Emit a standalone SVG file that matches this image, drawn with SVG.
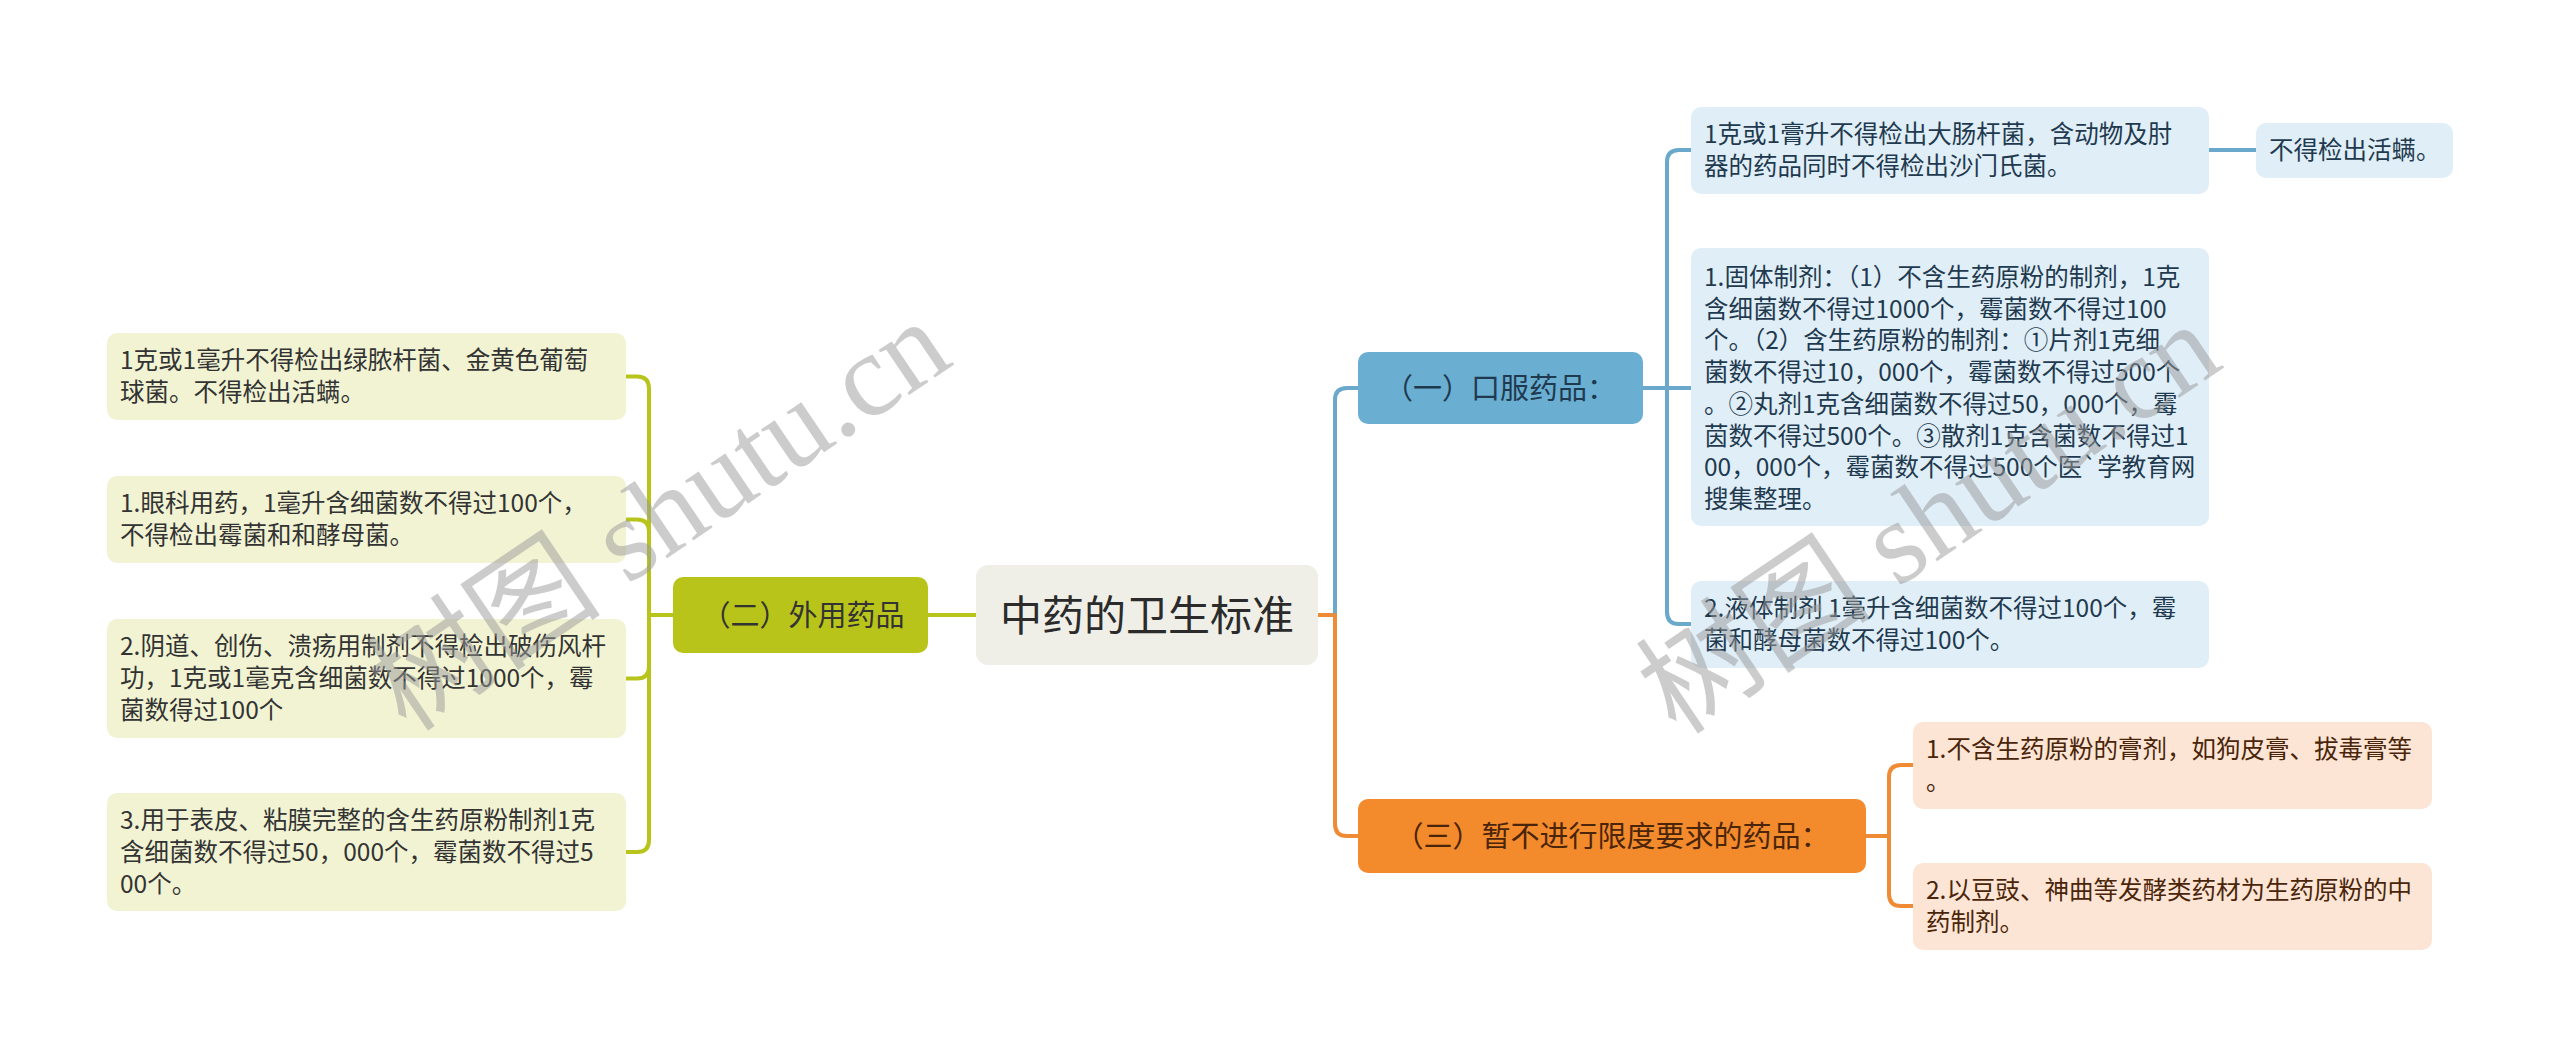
<svg xmlns="http://www.w3.org/2000/svg" width="2560" height="1057" viewBox="0 0 2560 1057">
<style>
text{font-family:"Noto Sans CJK SC","Noto Sans",sans-serif;}
.root{fill:#efefe8;}
.rootT{font-size:42px;fill:#2b2b2b;text-anchor:middle;}
.l1T{font-size:29px;text-anchor:middle;}
.c{font-size:24.5px;}
.gN{fill:#b8c41a;}
.gC{fill:#f1f3d3;}
.gT{fill:#333333;}
.bN{fill:#6aaed2;}
.bC{fill:#e0eef7;}
.bT{fill:#1f3a4f;}
.oN{fill:#f38a2c;}
.oC{fill:#fde5d5;}
.oT{fill:#4a250a;}
.ln{fill:none;stroke-width:4;stroke-linecap:round;}
.g{stroke:#b8c41a;}
.b{stroke:#6aa8cc;}
.o{stroke:#ef8b35;}
.wm{font-family:"Liberation Serif","Noto Sans CJK SC",serif;font-size:118px;fill:#9a9a9a;opacity:0.5;text-anchor:middle;}
</style>
<g id="connectors">
<path class="ln g" d="M976,615 H928"/>
<path class="ln g" d="M673,615 H649"/>
<path class="ln g" d="M649,615 V388.5 Q649,376.5 637,376.5 H626"/>
<path class="ln g" d="M649,615 V531.5 Q649,519.5 637,519.5 H626"/>
<path class="ln g" d="M649,615 V666.5 Q649,678.5 637,678.5 H626"/>
<path class="ln g" d="M649,615 V840 Q649,852 637,852 H626"/>
<path class="ln o" d="M1318,615 H1335"/>
<path class="ln b" d="M1335,615 V400 Q1335,388 1347,388 H1358"/>
<path class="ln o" d="M1335,615 V824 Q1335,836 1347,836 H1358"/>
<path class="ln b" d="M1643,388 H1667"/>
<path class="ln b" d="M1667,388 V162 Q1667,150 1679,150 H1691"/>
<path class="ln b" d="M1667,388 H1691"/>
<path class="ln b" d="M1667,388 V612 Q1667,624 1679,624 H1691"/>
<path class="ln b" d="M2209,150 H2256"/>
<path class="ln o" d="M1866,836 H1889"/>
<path class="ln o" d="M1889,836 V777 Q1889,765 1901,765 H1913"/>
<path class="ln o" d="M1889,836 V894 Q1889,906 1901,906 H1913"/>
</g>
<g id="root">
<rect class="root" x="976" y="565" width="342" height="100" rx="12"/>
<text class="rootT" x="1147" y="631">中药的卫生标准</text>
</g>
<g id="n2">
<rect class="gN" x="673" y="577" width="255" height="76" rx="10"/>
<text class="l1T gT" x="803" y="626">（二）外用药品</text>
</g>
<g id="n2a">
<rect class="gC" x="107" y="333" width="519" height="87" rx="10"/>
<text class="c gT" x="120" y="369">1克或1毫升不得检出绿脓杆菌、金黄色葡萄</text>
<text class="c gT" x="120" y="401">球菌。不得检出活螨。</text>
</g>
<g id="n2b">
<rect class="gC" x="107" y="476" width="519" height="87" rx="10"/>
<text class="c gT" x="120" y="512">1.眼科用药，1毫升含细菌数不得过100个，</text>
<text class="c gT" x="120" y="544">不得检出霉菌和和酵母菌。</text>
</g>
<g id="n2c">
<rect class="gC" x="107" y="619" width="519" height="119" rx="10"/>
<text class="c gT" x="120" y="655">2.阴道、创伤、溃疡用制剂不得检出破伤风杆</text>
<text class="c gT" x="120" y="687">功，1克或1毫克含细菌数不得过1000个，霉</text>
<text class="c gT" x="120" y="719">菌数得过100个</text>
</g>
<g id="n2d">
<rect class="gC" x="107" y="793" width="519" height="118" rx="10"/>
<text class="c gT" x="120" y="829">3.用于表皮、粘膜完整的含生药原粉制剂1克</text>
<text class="c gT" x="120" y="861">含细菌数不得过50，000个，霉菌数不得过5</text>
<text class="c gT" x="120" y="893">00个。</text>
</g>
<g id="n1">
<rect class="bN" x="1358" y="352" width="285" height="72" rx="10"/>
<text class="l1T bT" x="1500" y="399">（一）口服药品：</text>
</g>
<g id="n1a">
<rect class="bC" x="1691" y="107" width="518" height="87" rx="10"/>
<text class="c bT" x="1704" y="143">1克或1膏升不得检出大肠杆菌，含动物及肘</text>
<text class="c bT" x="1704" y="175">器的药品同时不得检出沙门氏菌。</text>
</g>
<g id="n1a1">
<rect class="bC" x="2256" y="123" width="197" height="55" rx="10"/>
<text class="c bT" x="2269" y="159">不得检出活螨。</text>
</g>
<g id="n1b">
<rect class="bC" x="1691" y="248" width="518" height="278" rx="10"/>
<text class="c bT" x="1704" y="286">1.固体制剂：（1）不含生药原粉的制剂，1克</text>
<text class="c bT" x="1704" y="317.7">含细菌数不得过1000个，霉菌数不得过100</text>
<text class="c bT" x="1704" y="349.4">个。（2）含生药原粉的制剂：①片剂1克细</text>
<text class="c bT" x="1704" y="381.1">菌数不得过10，000个，霉菌数不得过500个</text>
<text class="c bT" x="1704" y="412.8">。②丸剂1克含细菌数不得过50，000个，霉</text>
<text class="c bT" x="1704" y="444.5">茵数不得过500个。③散剂1克含菌数不得过1</text>
<text class="c bT" x="1704" y="476.2">00，000个，霉菌数不得过500个医`学教育网</text>
<text class="c bT" x="1704" y="507.9">搜集整理。</text>
</g>
<g id="n1c">
<rect class="bC" x="1691" y="581" width="518" height="87" rx="10"/>
<text class="c bT" x="1704" y="617">2.液体制剂 1毫升含细菌数不得过100个，霉</text>
<text class="c bT" x="1704" y="649">菌和酵母菌数不得过100个。</text>
</g>
<g id="n3">
<rect class="oN" x="1358" y="799" width="508" height="74" rx="10"/>
<text class="l1T oT" x="1612" y="847">（三）暂不进行限度要求的药品：</text>
</g>
<g id="n3a">
<rect class="oC" x="1913" y="722" width="519" height="87" rx="10"/>
<text class="c oT" x="1926" y="758">1.不含生药原粉的膏剂，如狗皮膏、拔毒膏等</text>
<text class="c oT" x="1926" y="790">。</text>
</g>
<g id="n3b">
<rect class="oC" x="1913" y="863" width="519" height="87" rx="10"/>
<text class="c oT" x="1926" y="899">2.以豆豉、神曲等发酵类药材为生药原粉的中</text>
<text class="c oT" x="1926" y="931">药制剂。</text>
</g>
<g id="watermarks">
<text class="wm" transform="translate(660,517) rotate(-34)" y="38">树图 shutu.cn</text>
<text class="wm" transform="translate(1930,520) rotate(-34)" y="38">树图 shutu.cn</text>
</g>
</svg>
